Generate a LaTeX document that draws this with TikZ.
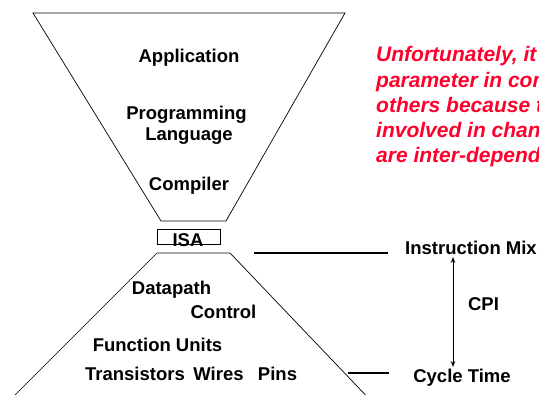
\documentclass[tikz,border=0pt]{standalone}
\usepackage{fontspec}
\setmainfont{Liberation Sans}
\usetikzlibrary{arrows.meta}
\definecolor{noteRed}{RGB}{255,0,45}
\begin{document}
\begin{tikzpicture}[x=1pt,y=-1pt,
  lbl/.style={anchor=base, inner sep=0pt, font=\fontsize{18.5}{22}\selectfont\bfseries},
  note/.style={anchor=base west, inner sep=0pt, text=noteRed,
               font=\fontsize{21}{25}\selectfont\bfseries\itshape},
  funnel/.style={line width=0.7pt},
  rule/.style={line width=1.6pt},
  isabox/.style={draw, line width=0.9pt, minimum width=63pt, minimum height=15pt, inner sep=0pt}]
\useasboundingbox (0,0) rectangle (539,395);

% software funnel (upper)
\coordinate (swTL) at (33,13);
\coordinate (swTR) at (345,13);
\coordinate (swBR) at (226,221);
\coordinate (swBL) at (161,221);
\draw[funnel] (swTL) -- (swTR) -- (swBR) -- (swBL) -- cycle;

% hardware pyramid (lower, open at the bottom)
\coordinate (hwL) at (5,405);
\coordinate (hwTL) at (157,253);
\coordinate (hwTR) at (230,253);
\coordinate (hwR) at (375,405);
\draw[funnel] (hwL) -- (hwTL) -- (hwTR) -- (hwR);

% ISA box between the two
\node[isabox] (isa) at (188.5,236.5) {};
\node[lbl] (isatxt) at (188,247) {ISA};

% software layers
\node[lbl] (app) at (189,63) {Application};
\node[lbl] (prog) at (186.5,120) {Programming};
\node[lbl] (lang) at (189,141) {Language};
\node[lbl] (comp) at (189,191) {Compiler};

% hardware layers
\node[lbl] (dpath) at (171.5,295) {Datapath};
\node[lbl] (ctrl) at (223.5,319) {Control};
\node[lbl] (fu) at (157.5,352) {Function Units};
\node[lbl] (trans) at (135,381) {Transistors};
\node[lbl] (wires) at (218.5,381) {Wires};
\node[lbl] (pins) at (277.5,381) {Pins};

% performance factors
\node[lbl] (imix) at (471,255) {Instruction Mix};
\node[lbl] (cpi) at (483.5,311) {CPI};
\node[lbl] (ctime) at (462,383) {Cycle Time};

\coordinate (imixL) at (254,253);
\coordinate (imixR) at (388,253);
\draw[rule] (imixL) -- (imixR);
\coordinate (ctimeL) at (348,373);
\coordinate (ctimeR) at (389,373);
\draw[rule] (ctimeL) -- (ctimeR);

\coordinate (cpiTop) at (453,257);
\coordinate (cpiBot) at (453,367);
\draw[line width=0.8pt, {Stealth[length=6pt,width=4.5pt]}-{Stealth[length=6pt,width=4.5pt]}] (cpiTop) -- (cpiBot);

% remark on the right
\node[note] (n1) at (376,62) {Unfortunately, it is};
\node[note] (n2) at (376,87.5) {parameter in complete};
\node[note] (n3) at (376,113) {others because the};
\node[note] (n4) at (376,138) {involved in changing};
\node[note] (n5) at (376,163) {are inter-dependent};
\end{tikzpicture}
\end{document}
